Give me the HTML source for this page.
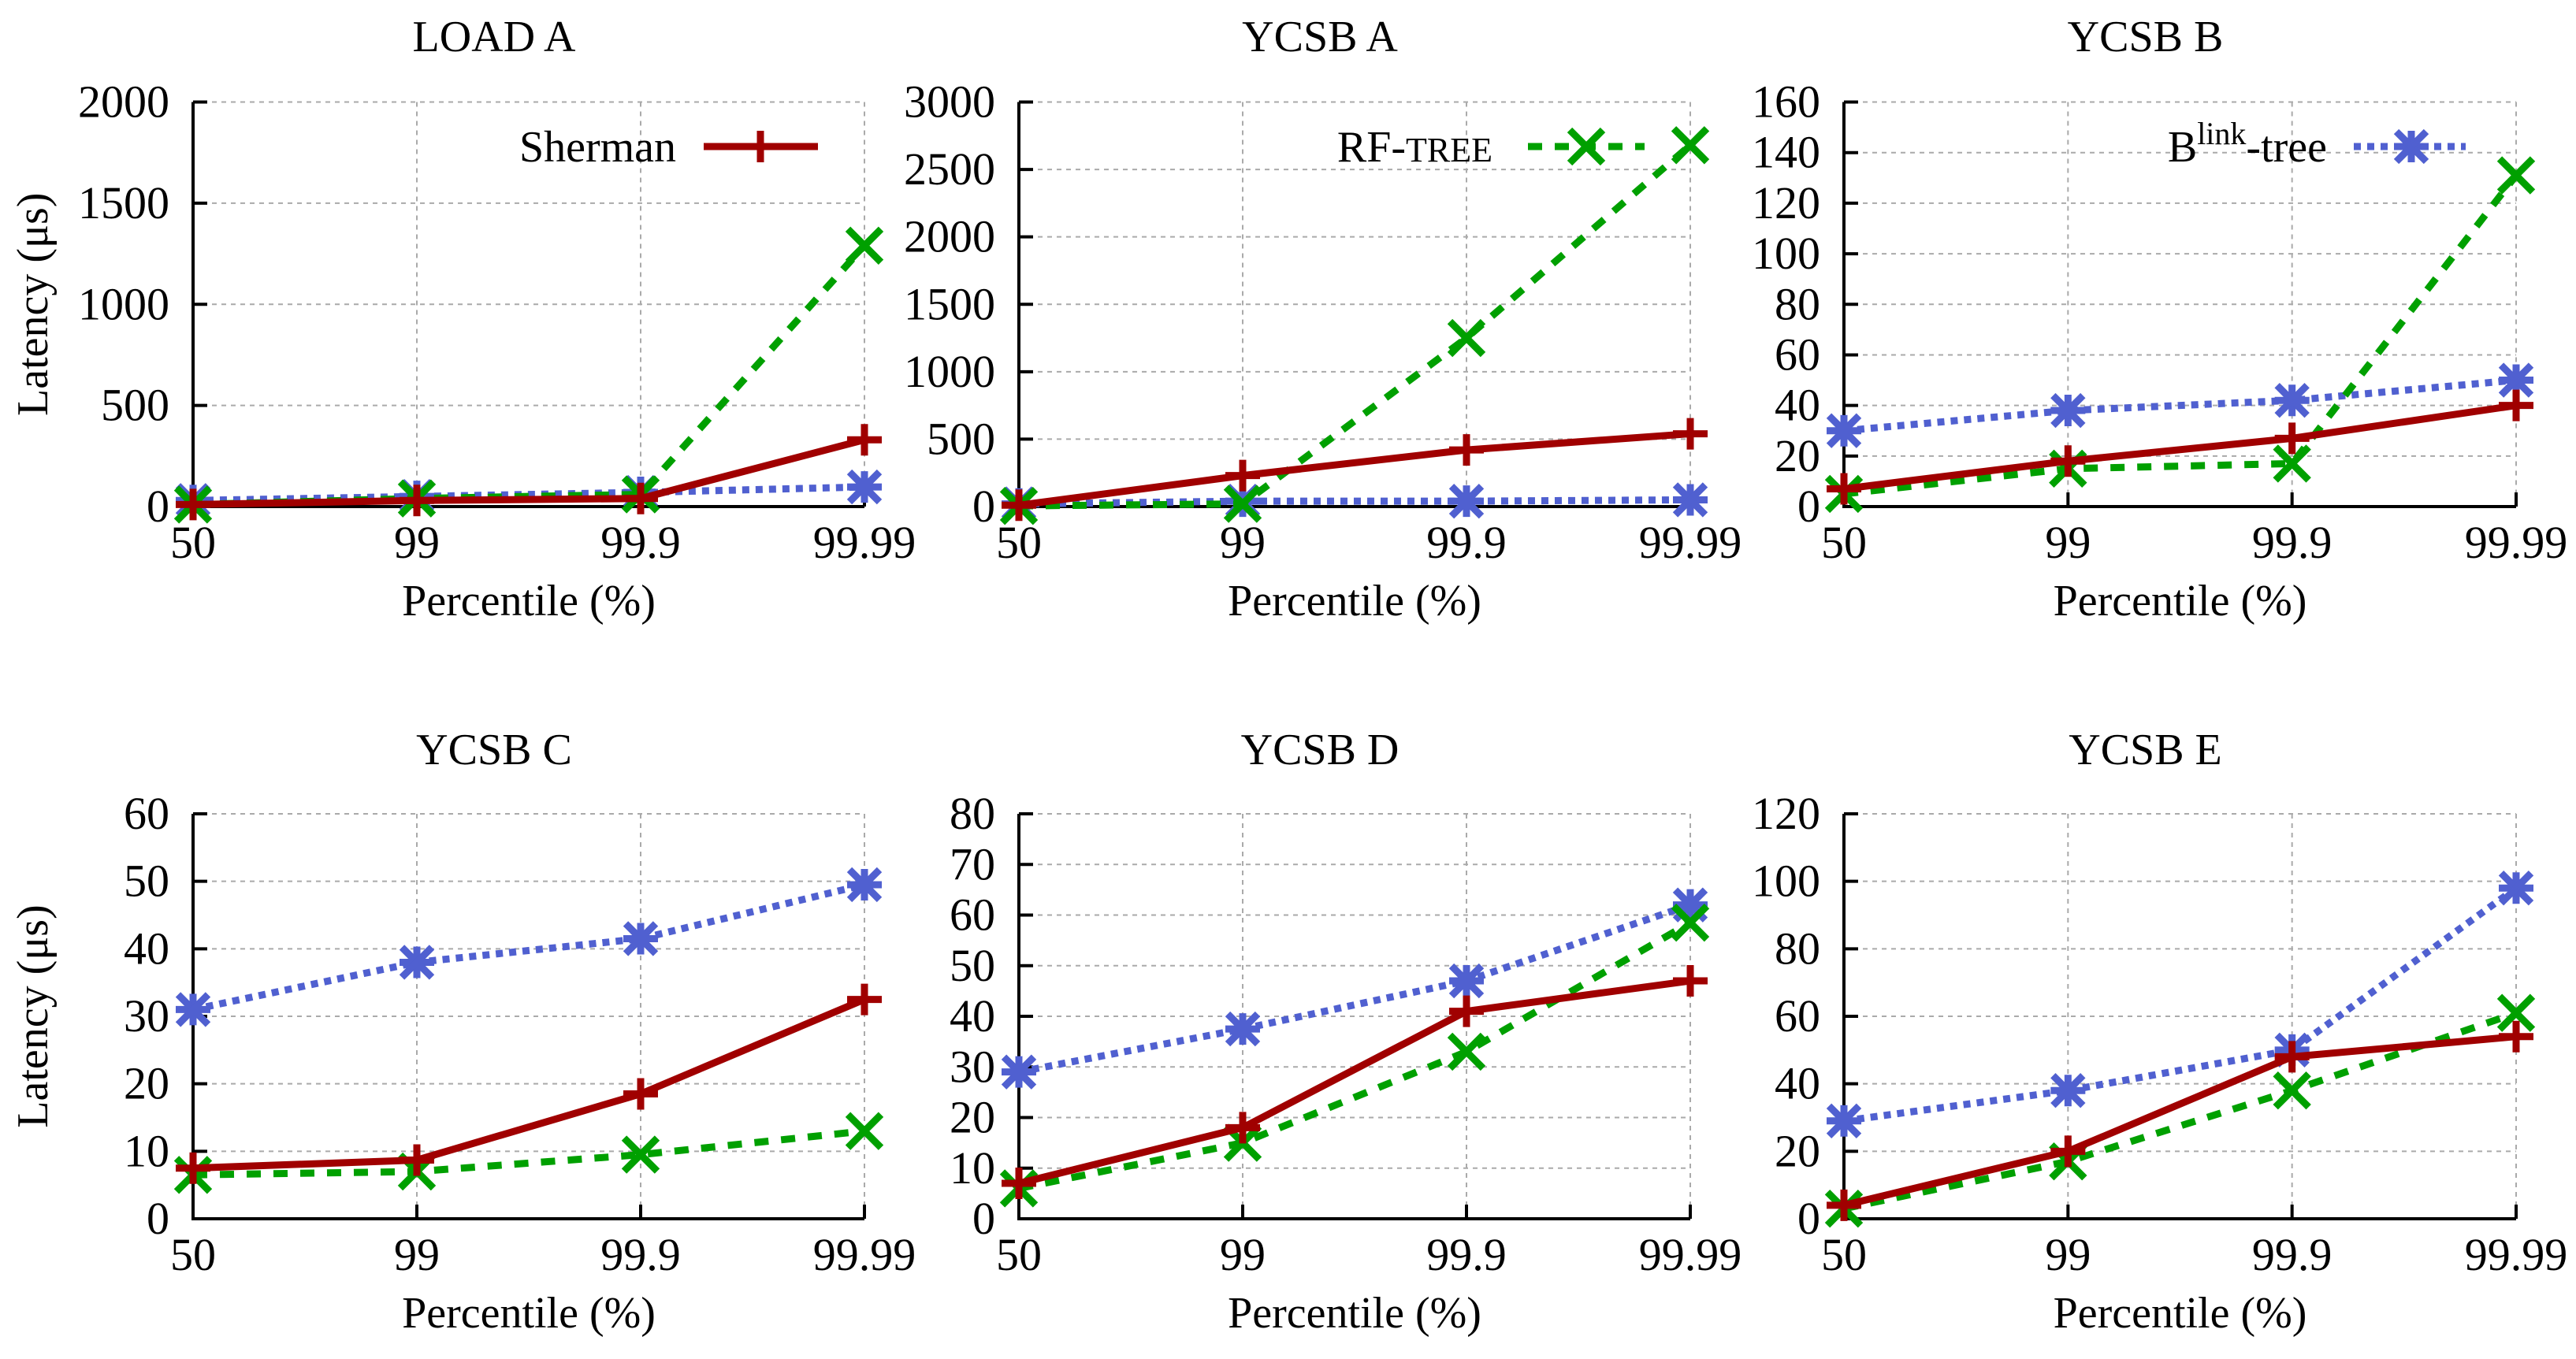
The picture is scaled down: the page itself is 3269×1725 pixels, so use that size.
<!DOCTYPE html>
<html><head><meta charset="utf-8"><style>
html,body{margin:0;padding:0;background:#fff;}
svg, svg text{font-family:"Liberation Serif","DejaVu Serif",serif;}
</style></head><body>
<svg id="chart" width="3269" height="1720" viewBox="0 0 3269 1720" xmlns="http://www.w3.org/2000/svg" font-family="'Liberation Serif', 'DejaVu Serif', serif"></svg>
<script>
const categories = ["50","99","99.9","99.99"];
const titles = ["LOAD A","YCSB A","YCSB B","YCSB C","YCSB D","YCSB E"];
const yMaxes = [2000,3000,160,60,80,120];
const ySteps = [500,500,20,10,10,20];
const shermanValues = [
  [10,30,40,330],
  [10,230,420,540],
  [7,18,27,40],
  [7.5,8.7,18.5,32.5],
  [7,18,41,47],
  [4,20,48,54]
];
const rftreeValues = [
  [10,40,60,1290],
  [5,20,1250,2680],
  [5,15,17,131],
  [6.5,7,9.5,13],
  [6,15,33,58.5],
  [3,17,38,61]
];
const blinkValues = [
  [30,50,70,97],
  [20,40,40,50],
  [30,38,42,50],
  [31,38,41.5,49.5],
  [29,37.5,47,62],
  [29,38,50,98]
];

const NS="http://www.w3.org/2000/svg";
const svg=document.getElementById('chart');
const FF="'Liberation Serif', 'DejaVu Serif', serif";
function mk(tag,attrs,parent){const e=document.createElementNS(NS,tag);for(const k in attrs)e.setAttribute(k,attrs[k]);if(tag==='text'){e.setAttribute('font-family',FF);e.style.fontFamily=FF;}(parent||svg).appendChild(e);return e;}

const colL=[245,1293,2340], colR=[1097,2145,3193];
const rowT=[129.5,1033], rowB=[643,1547];
const RED="#a00000", GREEN="#00a000", BLUE="#5060d0";

function marker(g,type,x,y,color){
  const s=22, sw=9;
  if(type==='plus'||type==='star'){
    mk('line',{x1:x-s,y1:y,x2:x+s,y2:y,stroke:color,'stroke-width':sw},g);
    mk('line',{x1:x,y1:y-s+2,x2:x,y2:y+s-2,stroke:color,'stroke-width':sw},g);
  }
  if(type==='x'||type==='star'){
    const d=type==='x'?21:19;
    mk('line',{x1:x-d,y1:y-d,x2:x+d,y2:y+d,stroke:color,'stroke-width':sw},g);
    mk('line',{x1:x-d,y1:y+d,x2:x+d,y2:y-d,stroke:color,'stroke-width':sw},g);
  }
}

const seriesDefs=[
  {name:'blink-tree',data:blinkValues,color:BLUE,dash:'9 8',m:'star'},
  {name:'rf-tree',data:rftreeValues,color:GREEN,dash:'18 16',m:'x'},
  {name:'sherman',data:shermanValues,color:RED,dash:null,m:'plus'}
];

for(let p=0;p<6;p++){
  const c=p%3, r=Math.floor(p/3);
  const L=colL[c], R=colR[c], T=rowT[r], B=rowB[r];
  const g=mk('g',{});
  
  
  const xs=i=>L+(R-L)*i/(categories.length-1);
  const ys=v=>B-(B-T)*v/yMaxes[p];
  for(let v=ySteps[p]; v<=yMaxes[p]+1e-9; v+=ySteps[p]){
    const gl=mk('line',{x1:L,y1:ys(v),x2:R,y2:ys(v),stroke:'#aaa','stroke-width':2,'stroke-dasharray':'6 6'},g);
    
    
  }
  for(let i=1;i<categories.length;i++){
    const gl=mk('line',{x1:xs(i),y1:T,x2:xs(i),y2:B,stroke:'#aaa','stroke-width':2,'stroke-dasharray':'6 6'},g);
    
    
  }
  for(let v=0; v<=yMaxes[p]+1e-9; v+=ySteps[p]){
    mk('line',{x1:L,y1:ys(v),x2:L+18,y2:ys(v),stroke:'#000','stroke-width':4},g);
    const t=mk('text',{x:L-30,y:ys(v)+19,'text-anchor':'end','font-size':58,fill:'#000'},g);
    t.textContent=String(v);
    
    
  }
  categories.forEach((cat,i)=>{
    mk('line',{x1:xs(i),y1:B,x2:xs(i),y2:B-18,stroke:'#000','stroke-width':4},g);
    const t=mk('text',{x:xs(i),y:B+65,'text-anchor':'middle','font-size':58,fill:'#000'},g);
    t.textContent=cat;
    
    
  });
  const ax=mk('path',{d:`M${L},${T} L${L},${B} L${R},${B}`,fill:'none',stroke:'#000','stroke-width':4},g);
  
  
  const tt=mk('text',{x:(L+R)/2-44,y:(r?951:46)+19,'text-anchor':'middle','font-size':56,fill:'#000'},g);
  tt.textContent=titles[p];
  
  
  const xl=mk('text',{x:(L+R)/2,y:B+138,'text-anchor':'middle','font-size':56,fill:'#000'},g);
  xl.textContent='Percentile (%)';
  
  
  if(c===0){
    const yl=mk('text',{x:0,y:0,'text-anchor':'middle','font-size':56,fill:'#000',transform:`translate(60,${(T+B)/2}) rotate(-90)`},g);
    yl.textContent='Latency (μs)';
    
    
  }
  seriesDefs.forEach(sd=>{
    const vals=sd.data[p];
    const pts=vals.map((v,i)=>xs(i)+','+ys(v)).join(' ');
    const a={points:pts,fill:'none',stroke:sd.color,'stroke-width':9};
    if(sd.dash)a['stroke-dasharray']=sd.dash;
    const pl=mk('polyline',a,g);
    
    
    vals.forEach((v,i)=>marker(g,sd.m,xs(i),ys(v),sd.color));
  });
}

function legend(textNodes,textEnd,x1,x2,mx,color,dash,m,name){
  const g=mk('g',{});
  
  
  const t=mk('text',{x:textEnd,y:205,'text-anchor':'end','font-size':56,fill:'#000'},g);
  t.innerHTML=textNodes;
  const a={x1:x1,y1:186,x2:x2,y2:186,stroke:color,'stroke-width':9};
  if(dash)a['stroke-dasharray']=dash;
  mk('line',a,g);
  marker(g,m,mx,186,color);
}
legend('Sherman',858,893,1038,965,RED,null,'plus','sherman');
legend('RF-<tspan font-size="44">TREE</tspan>',1894,1939,2087,2013,GREEN,'18 16','x','rf-tree');
legend('B<tspan font-size="40" dy="-22">link</tspan><tspan dy="22">-tree</tspan>',2953,2987,3129,3060,BLUE,'9 8','star','blink-tree');
</script>
</body></html>
